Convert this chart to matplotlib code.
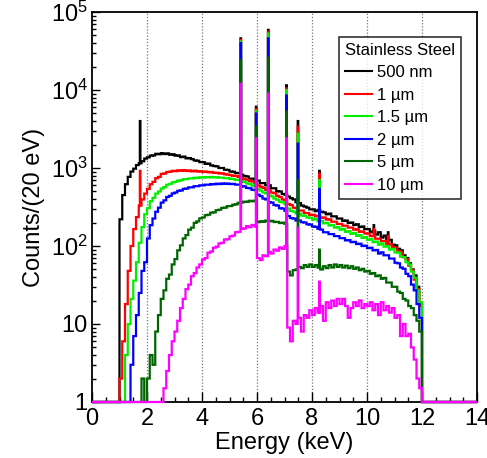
import numpy as np
import matplotlib
matplotlib.use("Agg")
import matplotlib.pyplot as plt
from matplotlib.lines import Line2D
from matplotlib.ticker import FixedLocator, LogLocator, NullFormatter

plt.rcParams['font.family'] = ['Liberation Sans', 'DejaVu Sans']
plt.rcParams['mathtext.fontset'] = 'custom'
plt.rcParams['mathtext.rm'] = 'Liberation Sans'

# continuum: counts per 0.1 keV bin starting at 1.0 keV (one row = 1 keV)
E_START = 1.0
E_STEP = 0.1

cont_500nm = [
    220, 450, 620, 770, 900, 980, 1090, 1150, 1220, 1320,
    1370, 1440, 1450, 1520, 1500, 1550, 1510, 1540, 1480, 1500,
    1440, 1450, 1380, 1400, 1330, 1340, 1300, 1250, 1240, 1190,
    1190, 1130, 1140, 1080, 1060, 1050, 1000, 1000, 950, 945,
    900, 895, 860, 865, 820, 790, 780, 730, 730, 690,
    690, 640, 640, 600, 600, 550, 550, 505, 500, 465,
    455, 430, 410, 395, 365, 355, 330, 320, 310, 295,
    295, 280, 290, 275, 270, 255, 260, 240, 240, 225,
    225, 210, 212, 198, 200, 186, 190, 175, 178, 165,
    165, 150, 156, 140, 150, 128, 136, 116, 120, 104,
    102, 92, 88, 76, 70, 60, 50, 42, 30, 18]
cont_1um = [
    2, 6, 18, 48, 100, 165, 235, 330, 395, 470,
    540, 620, 665, 740, 770, 840, 850, 890, 895, 920,
    910, 935, 920, 940, 915, 930, 905, 925, 900, 910,
    890, 900, 880, 890, 865, 870, 850, 855, 830, 825,
    810, 795, 790, 770, 750, 720, 710, 680, 670, 640,
    600, 575, 555, 525, 520, 485, 475, 440, 425, 395,
    385, 345, 335, 310, 305, 285, 285, 265, 265, 250,
    252, 240, 245, 230, 232, 218, 220, 205, 205, 192,
    192, 182, 182, 172, 172, 162, 164, 152, 154, 145,
    144, 134, 134, 124, 124, 116, 116, 106, 106, 97,
    95, 86, 83, 72, 68, 56, 49, 37, 28, 17]
cont_1p5um = [
    0, 1, 4, 10, 21, 36, 62, 110, 175, 255,
    305, 375, 415, 470, 500, 545, 570, 610, 625, 655,
    665, 690, 695, 718, 720, 735, 735, 750, 745, 760,
    755, 765, 758, 768, 758, 762, 752, 752, 740, 740,
    725, 722, 705, 702, 675, 662, 635, 622, 595, 582,
    535, 512, 485, 472, 445, 432, 405, 392, 370, 362,
    342, 302, 282, 276, 262, 260, 246, 244, 232, 230,
    218, 222, 207, 210, 195, 198, 183, 186, 172, 175,
    162, 166, 152, 155, 143, 147, 135, 138, 127, 130,
    120, 123, 112, 114, 104, 108, 98, 100, 90, 92,
    83, 82, 73, 72, 62, 58, 47, 39, 27, 19]
cont_2um = [
    0, 0, 0, 1, 3, 7, 13, 25, 48, 62,
    125, 185, 225, 275, 310, 360, 385, 425, 440, 472,
    485, 510, 515, 540, 545, 565, 565, 585, 585, 600,
    600, 612, 610, 622, 618, 630, 622, 634, 625, 632,
    622, 626, 612, 612, 585, 580, 555, 550, 525, 520,
    455, 435, 405, 395, 365, 360, 335, 330, 305, 302,
    282, 242, 228, 225, 212, 212, 202, 200, 190, 188,
    178, 176, 166, 162, 150, 150, 142, 142, 134, 134,
    126, 126, 118, 119, 112, 113, 106, 107, 100, 101,
    94, 95, 88, 89, 80, 83, 76, 76, 69, 69,
    61, 60, 53, 51, 44, 41, 32, 27, 18, 12]
cont_5um = [
    0, 0, 0, 0, 0, 0, 0, 1, 2, 0,
    2, 4, 3, 8, 13, 21, 27, 38, 43, 58,
    68, 88, 102, 125, 138, 162, 172, 198, 207, 226,
    232, 248, 252, 268, 270, 288, 292, 308, 310, 324,
    325, 338, 342, 358, 360, 370, 368, 380, 374, 382,
    202, 208, 204, 212, 207, 210, 203, 204, 197, 199,
    192, 47, 42, 49, 50, 54, 52, 57, 54, 58,
    54, 57, 53, 50, 55, 52, 57, 53, 58, 54,
    57, 53, 56, 52, 55, 51, 53, 49, 51, 47,
    48, 44, 45, 41, 42, 38, 39, 34, 34, 30,
    30, 26, 25, 21, 20, 17, 16, 13, 11, 8]
cont_10um = [
    0, 0, 0, 0, 0, 0, 0, 0, 0, 0,
    0, 0, 0, 0, 0, 0, 1.5, 2.5, 4, 6,
    8, 11, 16, 21, 28, 32, 41, 45, 53, 58,
    67, 70, 82, 85, 95, 98, 108, 110, 121, 122,
    133, 136, 150, 152, 166, 168, 180, 174, 186, 178,
    70, 66, 76, 74, 84, 80, 90, 87, 96, 92,
    100, 9, 6, 11, 10, 12, 8, 13, 12, 15,
    13, 16, 14, 17, 11, 19, 16, 20, 17, 21,
    18, 21, 17, 12, 16, 19, 17, 20, 16, 18,
    17, 19, 15, 18, 13, 19, 15, 17, 14, 16,
    12, 13, 7, 10, 7, 7.5, 5, 3.5, 2, 1.5]

# fluorescence lines (keV) and peak counts per series
line_E = [1.74, 5.41, 5.95, 6.40, 7.06, 7.48, 8.26, 10.25, 10.75]
peak_500nm = [4000, 46000, 6100, 59000, 11500, 4000, 920, 185, 150]
peak_1um = [920, 44000, 5700, 56000, 10500, 3400, 850, 165, 135]
peak_1p5um = [0, 42000, 5400, 53000, 10000, 2750, 700, 0, 0]
peak_2um = [0, 40000, 5000, 46000, 8500, 2050, 540, 0, 0]
peak_5um = [0, 24000, 3400, 26000, 5300, 700, 90, 0, 0]
peak_10um = [0, 12000, 2400, 9000, 2400, 170, 35, 0, 0]

labels = ['500 nm', '1 µm', '1.5 µm', '2 µm', '5 µm', '10 µm']
colors = ['black', '#ff0000', '#00ee00', '#0000ff', '#006400', '#ff00ff']
conts = [cont_500nm, cont_1um, cont_1p5um, cont_2um, cont_5um, cont_10um]
peaks = [peak_500nm, peak_1um, peak_1p5um, peak_2um, peak_5um, peak_10um]

# fine 20 eV binning over the full axis
FINE = 0.02
edges = np.linspace(0, 14, 701)
centers = 0.5 * (edges[:-1] + edges[1:])


def build_hist(cont, pk):
    cont = np.asarray(cont, dtype=float)
    idx = np.floor((centers - E_START) / E_STEP + 1e-9).astype(int)
    vals = np.zeros_like(centers)
    ok = (idx >= 0) & (idx < len(cont))
    vals[ok] = cont[idx[ok]]
    for e, v in zip(line_E, pk):
        i = int(round(e / FINE))
        vals[i] = max(vals[i], v)
    return np.maximum(vals, 1.0)  # empty bins sit on the axis, ROOT-like


fig = plt.figure(figsize=(4.87, 4.58), dpi=100)
ax = fig.add_axes([92 / 487, 1 - 402 / 458, 385 / 487, 390 / 458])

for cont, pk, c in zip(conts, peaks, colors):
    ax.stairs(build_hist(cont, pk), edges, color=c, lw=1.6, baseline=None,
              zorder=3, clip_on=False)

ax.set_yscale('log')
ax.set_xlim(0, 14)
ax.set_ylim(1, 1e5)

for x in [2, 4, 6, 8, 10, 12]:
    ax.axvline(x, color='#777777', lw=0.9, ls=(0, (1, 1.5)), zorder=1)

ax.xaxis.set_major_locator(FixedLocator([0, 2, 4, 6, 8, 10, 12, 14]))
ax.xaxis.set_minor_locator(FixedLocator(np.arange(0.5, 14, 0.5)))
ax.yaxis.set_major_locator(FixedLocator([1, 10, 100, 1e3, 1e4, 1e5]))
ax.set_yticklabels(['1', '10', r'$\mathregular{10^2}$', r'$\mathregular{10^3}$',
                    r'$\mathregular{10^4}$', r'$\mathregular{10^5}$'])
ax.yaxis.set_minor_locator(LogLocator(base=10, subs=np.arange(2, 10), numticks=20))
ax.yaxis.set_minor_formatter(NullFormatter())

ax.tick_params(axis='both', which='both', direction='in', labelsize=17)
ax.tick_params(axis='x', which='major', length=7, width=1, pad=4)
ax.tick_params(axis='x', which='minor', length=3.5, width=1)
ax.tick_params(axis='y', which='major', length=6, width=1, pad=3)
ax.tick_params(axis='y', which='minor', length=3, width=1)
for s in ax.spines.values():
    s.set_linewidth(1.3)

ax.set_xlabel('Energy (keV)', fontsize=17, labelpad=2)
ax.set_ylabel('Counts/(20 eV)', fontsize=17, labelpad=4)

handles = [Line2D([], [], color=c, lw=1.5) for c in colors]
leg = ax.legend(handles, labels, title='Stainless Steel', loc='upper left',
                bbox_to_anchor=(0.642, 0.936), fontsize=12, title_fontsize=12,
                frameon=True, fancybox=False, edgecolor='black',
                handlelength=1.6, handletextpad=0.3, labelspacing=0.45,
                borderpad=0.35, borderaxespad=0)
leg.get_frame().set_linewidth(1.2)
leg._legend_box.align = 'left'
leg.set_zorder(5)

fig.savefig('out.png', dpi=100)
